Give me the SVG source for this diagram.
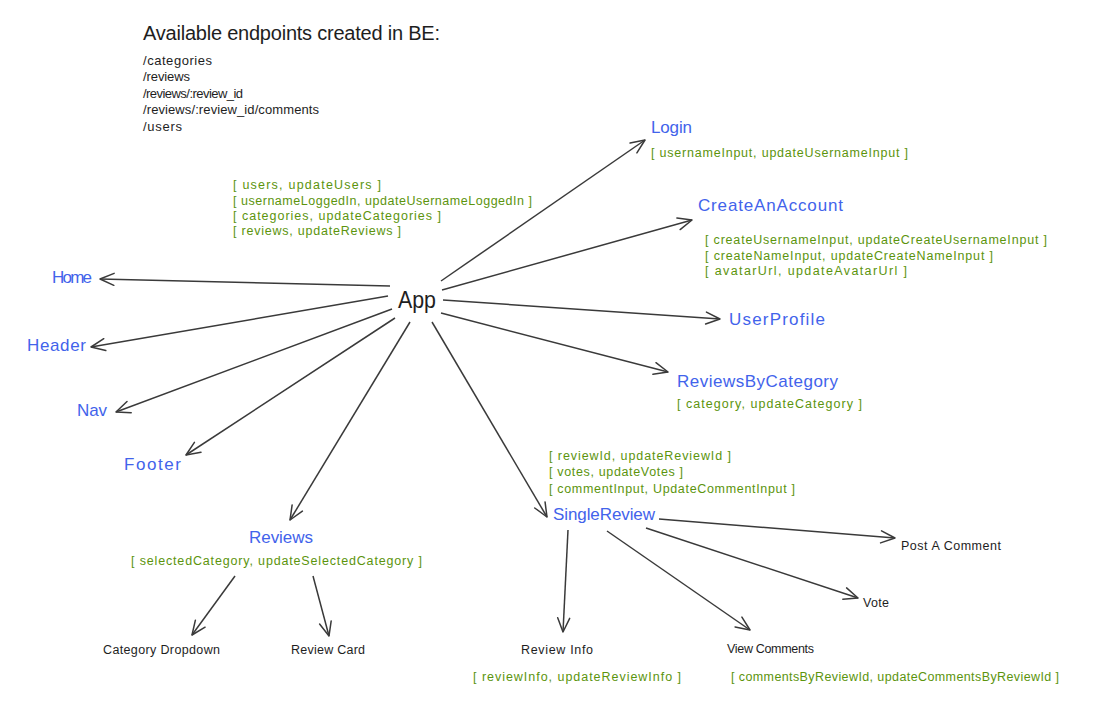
<svg xmlns="http://www.w3.org/2000/svg" width="1093" height="718" viewBox="0 0 1093 718">
<style>
text{font-family:"Liberation Sans","DejaVu Sans",sans-serif;}
.t{font-size:20px;fill:#1e1e1e;}
.ep{font-size:13px;fill:#1e1e1e;}
.st{font-size:12.5px;fill:#5c940d;}
.bl{font-size:17px;fill:#4263eb;}
.bk{font-size:12.5px;fill:#1e1e1e;}
.app{font-size:23px;fill:#1e1e1e;}
.c line{stroke:#3a3a3a;stroke-width:1.5;fill:none;marker-end:url(#ah);}
</style>
<defs>
<marker id="ah" viewBox="-16 -8 18 16" refX="0" refY="0" markerWidth="18" markerHeight="16" markerUnits="userSpaceOnUse" orient="auto">
<path d="M-14,-6 L0,0 L-14,6" fill="none" stroke="#3a3a3a" stroke-width="1.5" stroke-linecap="round" stroke-linejoin="round"/>
</marker>
</defs>
<rect width="1093" height="718" fill="#ffffff"/>

<g id="endpoints">
<text class="t" x="143" y="40" textLength="297">Available endpoints created in BE:</text>
<text class="ep" x="143" y="65" textLength="69">/categories</text>
<text class="ep" x="143" y="81" textLength="47">/reviews</text>
<text class="ep" x="143" y="98" textLength="100">/reviews/:review_id</text>
<text class="ep" x="143" y="114" textLength="176">/reviews/:review_id/comments</text>
<text class="ep" x="143" y="131" textLength="39">/users</text>
</g>

<g class="c" id="connectors">
<line x1="390" y1="286" x2="100" y2="279"/>
<line x1="388" y1="296" x2="91" y2="347"/>
<line x1="392" y1="309" x2="116" y2="412"/>
<line x1="395" y1="318" x2="186" y2="455"/>
<line x1="410" y1="322" x2="290" y2="520"/>
<line x1="432" y1="322" x2="547" y2="517"/>
<line x1="441" y1="281" x2="645" y2="140"/>
<line x1="442" y1="290" x2="692" y2="220"/>
<line x1="443" y1="300" x2="720" y2="319"/>
<line x1="441" y1="313" x2="668" y2="372"/>
<line x1="659" y1="519" x2="895" y2="538"/>
<line x1="646" y1="528" x2="858" y2="598"/>
<line x1="568" y1="530" x2="563" y2="632"/>
<line x1="607" y1="531" x2="750" y2="630"/>
<line x1="235" y1="576" x2="192" y2="635"/>
<line x1="313" y1="576" x2="329" y2="636"/>
</g>

<g id="app">
<text class="app" x="398" y="308" textLength="38" lengthAdjust="spacingAndGlyphs">App</text>
<text class="st" x="233" y="189" textLength="148">[ users, updateUsers ]</text>
<text class="st" x="233" y="205" textLength="299">[ usernameLoggedIn, updateUsernameLoggedIn ]</text>
<text class="st" x="233" y="220" textLength="208">[ categories, updateCategories ]</text>
<text class="st" x="233" y="235" textLength="168">[ reviews, updateReviews ]</text>
</g>

<g id="login">
<text class="bl" x="651" y="133" textLength="41">Login</text>
<text class="st" x="651" y="157" textLength="257">[ usernameInput, updateUsernameInput ]</text>
</g>

<g id="createAnAccount">
<text class="bl" x="698" y="211" textLength="145">CreateAnAccount</text>
<text class="st" x="705" y="244" textLength="342">[ createUsernameInput, updateCreateUsernameInput ]</text>
<text class="st" x="705" y="260" textLength="288">[ createNameInput, updateCreateNameInput ]</text>
<text class="st" x="705" y="275" textLength="202">[ avatarUrl, updateAvatarUrl ]</text>
</g>

<g id="userProfile">
<text class="bl" x="729" y="325" textLength="96">UserProfile</text>
</g>

<g id="reviewsByCategory">
<text class="bl" x="677" y="387" textLength="161">ReviewsByCategory</text>
<text class="st" x="677" y="408" textLength="185">[ category, updateCategory ]</text>
</g>

<g id="singleReview">
<text class="st" x="549" y="460" textLength="182">[ reviewId, updateReviewId ]</text>
<text class="st" x="549" y="476" textLength="134">[ votes, updateVotes ]</text>
<text class="st" x="549" y="493" textLength="246">[ commentInput, UpdateCommentInput ]</text>
<text class="bl" x="553" y="520" textLength="102">SingleReview</text>
</g>

<g id="postAComment"><text class="bk" x="901" y="550" textLength="100">Post A Comment</text></g>
<g id="vote"><text class="bk" x="863" y="607" textLength="26">Vote</text></g>

<g id="reviewInfo">
<text class="bk" x="521" y="654" textLength="72">Review Info</text>
<text class="st" x="473" y="681" textLength="208">[ reviewInfo, updateReviewInfo ]</text>
</g>

<g id="viewComments">
<text class="bk" x="727" y="653" textLength="87">View Comments</text>
<text class="st" x="731" y="681" textLength="328">[ commentsByReviewId, updateCommentsByReviewId ]</text>
</g>

<g id="home"><text class="bl" x="52" y="283" textLength="40">Home</text></g>
<g id="header"><text class="bl" x="27" y="351" textLength="59">Header</text></g>
<g id="nav"><text class="bl" x="77" y="416" textLength="30">Nav</text></g>
<g id="footer"><text class="bl" x="124" y="470" textLength="57">Footer</text></g>

<g id="reviews">
<text class="bl" x="249" y="543" textLength="64">Reviews</text>
<text class="st" x="131" y="565" textLength="291">[ selectedCategory, updateSelectedCategory ]</text>
</g>

<g id="categoryDropdown"><text class="bk" x="103" y="654" textLength="117">Category Dropdown</text></g>
<g id="reviewCard"><text class="bk" x="291" y="654" textLength="74">Review Card</text></g>
</svg>
